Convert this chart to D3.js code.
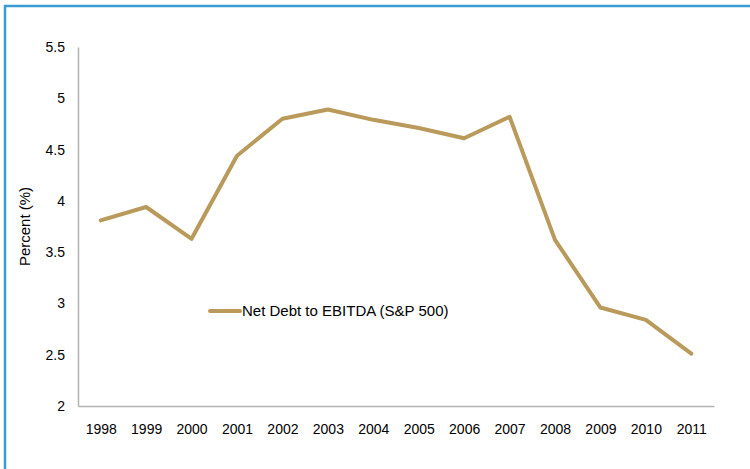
<!DOCTYPE html>
<html>
<head>
<meta charset="utf-8">
<script src="https://cdn.jsdelivr.net/npm/d3@7"></script>
<style>
  body { margin: 0; background: #fff; }
  svg text { font-family: "Liberation Sans", Arial, sans-serif; fill: #000; }
</style>
</head>
<body>
<svg id="chart" width="750" height="469"></svg>
<script>
// data
const years = ['1998', '1999', '2000', '2001', '2002', '2003', '2004',
               '2005', '2006', '2007', '2008', '2009', '2010', '2011'];
const netDebt = [3.81, 3.94, 3.63, 4.44, 4.80, 4.89, 4.79,
                 4.71, 4.61, 4.82, 3.62, 2.96, 2.84, 2.51];
const yTicks = [2, 2.5, 3, 3.5, 4, 4.5, 5, 5.5];
const seriesName = 'Net Debt to EBITDA (S&P 500)';

const svg = d3.select('#chart');

// blue frame (top and left edges visible)
svg.append('line')
    .attr('x1', 4).attr('x2', 750).attr('y1', 6).attr('y2', 6)
    .attr('stroke', '#3a9ad2').attr('stroke-width', 2.5);
svg.append('line')
    .attr('x1', 5).attr('x2', 5).attr('y1', 5).attr('y2', 469)
    .attr('stroke', '#3a9ad2').attr('stroke-width', 2.5);

const plotLeft = 78, plotRight = 714, plotTop = 47, plotBottom = 406;

const x = d3.scalePoint()
    .domain(years)
    .range([plotLeft, plotRight])
    .padding(0.5);

const y = d3.scaleLinear()
    .domain([2, 5.5])
    .range([plotBottom, plotTop]);

// axes
svg.append('g')
    .attr('transform', `translate(0,${plotBottom})`)
    .call(d3.axisBottom(x).tickSize(0).tickPadding(18))
    .call(g => g.select('.domain').attr('stroke', '#b3b3b3').attr('stroke-width', 1.5))
    .call(g => g.selectAll('text').attr('font-size', 14));

svg.append('g')
    .attr('transform', `translate(${plotLeft},0)`)
    .call(d3.axisLeft(y).tickValues(yTicks).tickSize(0).tickPadding(13)
        .tickFormat(d3.format('~g')))
    .call(g => g.select('.domain').attr('stroke', '#b3b3b3').attr('stroke-width', 1.5))
    .call(g => g.selectAll('text').attr('font-size', 14));

svg.append('text')
    .attr('transform', `translate(30,${(plotTop + plotBottom) / 2}) rotate(-90)`)
    .attr('text-anchor', 'middle')
    .attr('font-size', 15)
    .text('Percent (%)');

// series line
const line = d3.line()
    .x((d, i) => x(years[i]))
    .y(d => y(d));

svg.append('path')
    .datum(netDebt)
    .attr('d', line)
    .attr('fill', 'none')
    .attr('stroke', '#b99a5a')
    .attr('stroke-width', 4)
    .attr('stroke-linejoin', 'round')
    .attr('stroke-linecap', 'round');

// legend
const legend = svg.append('g').attr('transform', 'translate(210,311)');
legend.append('line')
    .attr('x1', 0).attr('x2', 30)
    .attr('stroke', '#b99a5a').attr('stroke-width', 4)
    .attr('stroke-linecap', 'round');
legend.append('text')
    .attr('x', 32).attr('dy', '0.35em')
    .attr('font-size', 15)
    .text(seriesName);
</script>
</body>
</html>
